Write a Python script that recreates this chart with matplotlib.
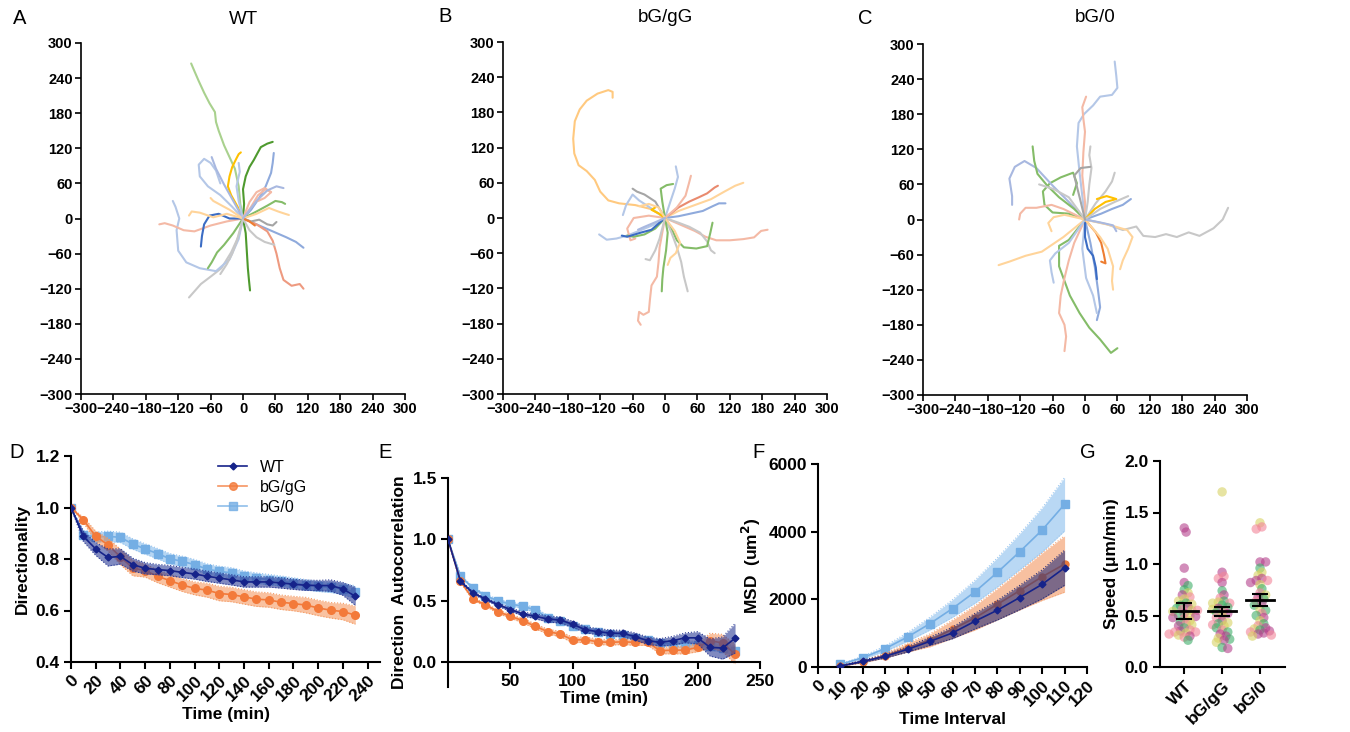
import numpy as np
import matplotlib
matplotlib.use("Agg")
import matplotlib.pyplot as plt
from matplotlib.lines import Line2D

plt.rcParams['font.family'] = ['Liberation Sans', 'DejaVu Sans']

# ---------------- track data (um) ----------------
wt_tracks = [
    [(0, 0), (-5, 25), (-8, 55), (-15, 85), (-25, 105), (-35, 125), (-45, 150), (-50, 165), (-52, 182), (-62, 197), (-72, 215), (-82, 235), (-90, 252), (-96, 265)],
    [(0, 0), (2, 25), (0, 50), (5, 72), (12, 88), (20, 100), (27, 112), (33, 122), (45, 128), (55, 131)],
    [(0, 0), (-10, 20), (-22, 40), (-28, 55), (-25, 72), (-20, 88), (-12, 103), (-8, 110), (-4, 113)],
    [(0, 0), (15, 15), (30, 35), (42, 55), (52, 78), (55, 95), (57, 112)],
    [(0, 0), (-20, 20), (-42, 40), (-65, 55), (-80, 72), (-82, 92), (-72, 102), (-60, 95), (-50, 82), (-42, 60)],
    [(0, 0), (-18, 30), (-35, 58), (-50, 85), (-58, 105)],
    [(0, 0), (15, 20), (28, 40), (42, 50), (52, 45), (40, 35), (28, 30)],
    [(0, 0), (25, 12), (45, 22), (60, 30), (72, 28), (78, 25)],
    [(0, 0), (25, 8), (48, 18), (65, 12), (78, 8), (85, 6)],
    [(0, 0), (25, -10), (55, -22), (80, -32), (98, -40), (112, -50)],
    [(0, 0), (25, -10), (45, -22), (55, -38), (62, -60), (68, -85), (75, -105), (90, -115), (105, -112), (112, -120)],
    [(0, 0), (5, -25), (7, -55), (9, -85), (11, -105), (13, -123)],
    [(0, 0), (-8, -30), (-22, -58), (-40, -85), (-58, -98), (-78, -112), (-100, -135)],
    [(0, 0), (-8, -35), (-25, -70), (-50, -90), (-80, -85), (-105, -75), (-120, -55), (-123, -20), (-118, 0), (-125, 20), (-130, 30)],
    [(0, 0), (-30, -5), (-60, -12), (-90, -22), (-110, -20), (-130, -12), (-145, -8), (-155, -10)],
    [(0, 0), (-25, 0), (-45, 8), (-62, 5), (-72, -10), (-76, -30), (-78, -48)],
    [(0, 0), (-18, -25), (-35, -45), (-48, -58), (-58, -75), (-65, -85)],
    [(0, 0), (-30, 8), (-55, 2), (-80, 10), (-95, 12), (-100, 5)],
    [(0, 0), (-25, 15), (-45, 25), (-55, 30), (-60, 35)],
    [(0, 0), (15, -5), (30, -2), (45, -10), (55, -12), (62, -6)],
    [(0, 0), (12, -20), (25, -32), (40, -40), (58, -45)],
    [(0, 0), (-8, 30), (-12, 55), (-6, 80), (-8, 95)],
    [(0, 0), (12, -5), (22, -12)],
    [(0, 0), (-12, -40), (-20, -60), (-30, -78), (-42, -95)],
    [(0, 0), (12, 28), (25, 45), (40, 52), (52, 45)],
    [(0, 0), (25, 30), (45, 48), (62, 55), (75, 52)],
]
wt_track_colors = ['lg', 'dg', 'go', 'mb', 'lb', 'lav', 'sa', 'mg', 'pe', 'mb', 'sa2', 'dg', 'gr', 'lb',
                   'sa', 'db', 'mg', 'pe', 'pe', 'dgr', 'gr', 'lb', 'or', 'gr', 'sa', 'lav']

gg_tracks = [
    [(0, 0), (-25, 15), (-55, 22), (-85, 25), (-105, 30), (-120, 45), (-130, 65), (-145, 80), (-160, 90), (-168, 110), (-170, 135), (-167, 165), (-158, 185), (-145, 200), (-125, 212), (-105, 218), (-97, 215), (-97, 205)],
    [(0, 0), (-5, -25), (-10, -50), (-12, -75), (-15, -100), (-25, -115), (-28, -140), (-30, -160), (-40, -165), (-48, -160), (-50, -175), (-45, -182)],
    [(0, 0), (30, -12), (55, -22), (75, -32), (95, -38), (120, -38), (145, -36), (165, -33), (178, -22), (190, -20)],
    [(0, 0), (25, 12), (55, 22), (85, 32), (110, 45), (130, 55), (145, 60)],
    [(0, 0), (25, 18), (45, 28), (62, 35), (78, 42), (92, 52), (98, 55)],
    [(0, 0), (25, 3), (50, 8), (70, 12), (88, 20), (100, 25), (112, 25)],
    [(0, 0), (25, -8), (45, -15), (65, -25), (78, -40), (85, -55), (92, -60)],
    [(0, 0), (12, -18), (22, -38), (35, -50), (58, -52), (78, -48), (84, -25), (88, -8)],
    [(0, 0), (12, -25), (22, -50), (30, -75), (35, -100), (42, -125)],
    [(0, 0), (5, -25), (2, -55), (-3, -85), (-5, -105), (-6, -125)],
    [(0, 0), (18, -22), (28, -42), (20, -60), (10, -68), (5, -80)],
    [(0, 0), (-22, -12), (-48, -22), (-70, -30), (-90, -35), (-108, -37), (-122, -28)],
    [(0, 0), (-30, 4), (-58, 0), (-70, -18), (-64, -38), (-55, -35)],
    [(0, 0), (-18, -18), (-38, -28), (-58, -32), (-70, -30)],
    [(0, 0), (-18, 28), (-38, 40), (-52, 45), (-60, 50)],
    [(0, 0), (10, 28), (18, 50), (24, 70), (20, 88)],
    [(0, 0), (-5, 28), (-8, 50), (3, 56), (15, 58)],
    [(0, 0), (22, 18), (38, 38), (44, 58), (48, 72)],
    [(0, 0), (-28, 18), (-48, 30), (-60, 40), (-72, 22), (-78, 5)],
    [(0, 0), (-12, 8), (-25, 14), (-18, 18)],
    [(0, 0), (-25, -20), (-45, -25), (-70, -32), (-80, -30)],
    [(0, 0), (-12, 18), (-30, 24), (-48, 20)],
    [(0, 0), (-10, -35), (-18, -55), (-28, -72), (-36, -70)],
    [(0, 0), (-20, -8), (-38, -15), (-50, -20)],
]
gg_track_colors = ['pe2', 'sa', 'sa', 'pe', 'ro', 'mb', 'gr', 'mg', 'gr', 'mg', 'pe', 'lb',
                   'sa', 'mg', 'dgr', 'lb', 'mg', 'sa', 'lb', 'go', 'db', 'pe', 'gr', 'lav']

b0_tracks = [
    [(0, 0), (-5, 40), (-10, 80), (-15, 125), (-12, 165), (-2, 180), (15, 195), (28, 210), (50, 213), (60, 225), (58, 245), (55, 270)],
    [(0, 0), (0, 30), (-5, 75), (-3, 115), (0, 150), (-3, 172), (-5, 192), (2, 210)],
    [(0, 0), (5, 30), (8, 60), (12, 88), (8, 110), (10, 125)],
    [(0, 0), (40, -8), (70, -18), (95, -12), (108, -28), (130, -30), (150, -25), (170, -30), (192, -22), (212, -28), (238, -15), (255, 0), (265, 20)],
    [(0, 0), (-30, -35), (-48, -45), (-48, -80), (-40, -100), (-28, -130), (-10, -160), (8, -185), (28, -205), (48, -228), (60, -220)],
    [(0, 0), (-20, -40), (-30, -70), (-38, -100), (-45, -130), (-48, -160), (-38, -180), (-35, -200), (-38, -225)],
    [(0, 0), (10, -40), (18, -80), (24, -120), (28, -150), (22, -172)],
    [(0, 0), (-5, -50), (2, -100), (15, -130), (22, -160)],
    [(0, 0), (0, -30), (5, -50), (15, -62), (20, -82), (22, -102)],
    [(0, 0), (20, -22), (30, -40), (35, -60), (38, -75), (30, -72)],
    [(0, 0), (28, -30), (42, -50), (52, -80), (50, -105), (52, -120)],
    [(0, 0), (48, -10), (78, -18), (88, -30), (80, -50), (70, -70), (65, -85)],
    [(0, 0), (-40, -30), (-80, -55), (-110, -62), (-140, -72), (-160, -78)],
    [(0, 0), (-30, -40), (-55, -58), (-65, -70), (-62, -90), (-58, -108)],
    [(0, 0), (-30, 10), (-60, 12), (-75, 25), (-78, 48), (-65, 62), (-45, 72), (-22, 80), (-15, 62), (-22, 42)],
    [(0, 0), (-30, 30), (-60, 58), (-90, 88), (-112, 100), (-130, 90), (-140, 70), (-135, 40), (-135, 25)],
    [(0, 0), (-20, 18), (-48, 38), (-70, 58), (-88, 78), (-94, 100), (-97, 125)],
    [(0, 0), (-40, 18), (-62, 25), (-90, 20), (-110, 20), (-120, 10), (-122, 0)],
    [(0, 0), (-38, 8), (-58, 4), (-68, -6), (-62, -20)],
    [(0, 0), (-30, 38), (-58, 52), (-85, 60)],
    [(0, 0), (20, 28), (38, 48), (50, 65), (55, 80)],
    [(0, 0), (18, 18), (38, 30), (58, 35), (40, 40), (22, 35)],
    [(0, 0), (30, 10), (50, 18), (70, 25), (85, 35)],
    [(0, 0), (28, 18), (55, 30), (80, 40)],
    [(0, 0), (28, -5), (52, -10), (58, -20)],
    [(0, 0), (-10, 38), (-20, 75), (-8, 88), (10, 90)],
]
b0_track_colors = ['lb', 'sa', 'gr', 'gr', 'mg', 'sa', 'mb', 'lb', 'db', 'or', 'pe', 'pe', 'pe',
                   'lb', 'mg', 'lav', 'mg', 'sa', 'pe', 'gr', 'gr', 'go', 'mb', 'gr', 'lav', 'dgr']

# ---------------- directionality / autocorrelation ----------------
time_min = list(range(0, 240, 10))
dir_wt = [1.0, 0.888, 0.839, 0.806, 0.81, 0.778, 0.764, 0.759, 0.755, 0.748, 0.742, 0.733,
          0.726, 0.719, 0.711, 0.711, 0.711, 0.707, 0.702, 0.698, 0.697, 0.697, 0.684, 0.655]
dir_wt_sem = [0, 0.02, 0.025, 0.033, 0.03, 0.025, 0.022, 0.02, 0.02, 0.02, 0.02, 0.02,
              0.02, 0.02, 0.02, 0.02, 0.02, 0.02, 0.02, 0.02, 0.02, 0.022, 0.025, 0.035]
dir_gg = [1.0, 0.952, 0.888, 0.855, 0.808, 0.765, 0.755, 0.733, 0.716, 0.699, 0.686, 0.679,
          0.666, 0.662, 0.653, 0.644, 0.641, 0.632, 0.627, 0.621, 0.610, 0.601, 0.596, 0.582]
dir_gg_sem = [0, 0.01, 0.02, 0.025, 0.03, 0.03, 0.025, 0.025, 0.025, 0.025, 0.025, 0.027,
              0.028, 0.028, 0.028, 0.028, 0.028, 0.028, 0.028, 0.03, 0.03, 0.03, 0.032, 0.035]
dir_b0 = [1.0, 0.895, 0.885, 0.888, 0.884, 0.858, 0.839, 0.821, 0.801, 0.791, 0.778, 0.761,
          0.752, 0.746, 0.733, 0.726, 0.72, 0.714, 0.707, 0.70, 0.694, 0.69, 0.684, 0.671]
dir_b0_sem = [0, 0.015, 0.02, 0.02, 0.02, 0.02, 0.02, 0.02, 0.02, 0.02, 0.02, 0.02,
              0.02, 0.02, 0.02, 0.02, 0.02, 0.02, 0.02, 0.02, 0.02, 0.02, 0.022, 0.025]

ac_wt = [1.0, 0.66, 0.565, 0.516, 0.47, 0.43, 0.394, 0.375, 0.353, 0.345, 0.31, 0.266,
         0.25, 0.239, 0.236, 0.21, 0.177, 0.163, 0.177, 0.2, 0.2, 0.122, 0.117, 0.196]
ac_wt_sem = [0, 0.01, 0.01, 0.01, 0.012, 0.015, 0.015, 0.02, 0.025, 0.025, 0.025, 0.025,
             0.025, 0.025, 0.025, 0.03, 0.03, 0.03, 0.035, 0.04, 0.05, 0.07, 0.09, 0.12]
ac_gg = [1.0, 0.66, 0.514, 0.47, 0.413, 0.375, 0.34, 0.293, 0.25, 0.231, 0.182, 0.185,
         0.168, 0.163, 0.168, 0.163, 0.163, 0.095, 0.10, 0.10, 0.122, 0.177, 0.158, 0.068]
ac_gg_sem = [0, 0.01, 0.01, 0.012, 0.015, 0.015, 0.018, 0.02, 0.02, 0.022, 0.022, 0.022,
             0.022, 0.022, 0.022, 0.025, 0.025, 0.025, 0.03, 0.03, 0.035, 0.06, 0.07, 0.08]
ac_b0 = [1.0, 0.70, 0.606, 0.543, 0.50, 0.475, 0.456, 0.427, 0.36, 0.335, 0.30, 0.27,
         0.25, 0.235, 0.22, 0.20, 0.18, 0.16, 0.15, 0.15, 0.14, 0.13, 0.12, 0.095]
ac_b0_sem = [0, 0.01, 0.01, 0.012, 0.015, 0.015, 0.018, 0.02, 0.02, 0.02, 0.02, 0.02,
             0.02, 0.02, 0.02, 0.02, 0.02, 0.025, 0.025, 0.025, 0.03, 0.03, 0.035, 0.04]

# ---------------- MSD ----------------
lag = [10, 20, 30, 40, 50, 60, 70, 80, 90, 100, 110]
msd_wt = [30, 168, 316, 523, 760, 1007, 1353, 1679, 2054, 2444, 2933]
msd_wt_sem = [10, 30, 50, 80, 120, 170, 230, 290, 360, 430, 520]
msd_gg = [30, 158, 336, 573, 790, 1116, 1451, 1852, 2257, 2667, 3042]
msd_gg_sem = [10, 35, 70, 130, 190, 270, 360, 460, 570, 700, 830]
msd_b0 = [80, 277, 543, 889, 1284, 1728, 2222, 2795, 3407, 4049, 4810]
msd_b0_sem = [15, 40, 80, 130, 190, 260, 340, 430, 530, 650, 790]

# ---------------- speed ----------------
groups = ['WT', 'bG/gG', 'bG/0']
speed_wt = [1.35, 1.31, 0.96, 0.82, 0.79, 0.75, 0.72, 0.70, 0.68, 0.66, 0.64, 0.62, 0.61, 0.60,
            0.58, 0.57, 0.56, 0.55, 0.55, 0.54, 0.52, 0.50, 0.50, 0.49, 0.48, 0.47, 0.45, 0.44,
            0.42, 0.41, 0.40, 0.38, 0.36, 0.35, 0.34, 0.34, 0.33, 0.32, 0.31, 0.30, 0.29, 0.26]
rep_wt = "mmmmggympyygygmgpypymygmmpygpymgpmppypympg"
speed_gg = [1.70, 0.92, 0.88, 0.86, 0.82, 0.74, 0.70, 0.67, 0.64, 0.63, 0.62, 0.62, 0.60,
            0.58, 0.57, 0.56, 0.55, 0.53, 0.52, 0.50, 0.48, 0.45, 0.43, 0.42, 0.41, 0.40,
            0.38, 0.36, 0.34, 0.32, 0.30, 0.28, 0.27, 0.26, 0.24, 0.19, 0.18]
rep_gg = "ymppmgmpgypyggmypgmypmygpygpgmmygmygm"
speed_b0 = [1.40, 1.36, 1.34, 1.02, 1.02, 0.96, 0.92, 0.89, 0.86, 0.84, 0.84, 0.82, 0.80,
            0.76, 0.72, 0.70, 0.68, 0.66, 0.64, 0.62, 0.60, 0.56, 0.55, 0.52, 0.50, 0.48,
            0.45, 0.42, 0.40, 0.38, 0.37, 0.36, 0.35, 0.34, 0.33, 0.32, 0.31, 0.30]
rep_b0 = "yppmmgyymmpmygpymgpmgygpgmygpmygmpmmpy"
speed_mean = [0.545, 0.54, 0.655]
speed_sem = [0.078, 0.042, 0.058]

# ---------------- styles ----------------
TRACK_C = {'lb': '#B4C7E7', 'lg': '#A9D18E', 'pe': '#FFD49A', 'pe2': '#FFC97F', 'sa': '#F4B9A5',
           'sa2': '#EE9A80', 'gr': '#C8C8C8', 'db': '#3B6CC4', 'dg': '#4E9A2E', 'mg': '#84BC68',
           'go': '#FFC000', 'mb': '#8FAADC', 'or': '#ED7D31', 'dgr': '#A5A5A5', 'ro': '#E98A6E',
           'lav': '#A8B8E0'}
REP_C = {'g': '#3FAE6A', 'm': '#B5428C', 'y': '#D8D264', 'p': '#F28598'}
NAVY, ORANGE, LBLUE = '#16238A', '#F37A3A', '#74AEE4'

W, H = 1350, 732
fig = plt.figure(figsize=(W / 100, H / 100), dpi=100)


def px_axes(l, t, r, b):
    return fig.add_axes([l / W, 1 - b / H, (r - l) / W, (b - t) / H])


def clean(ax, lw=1.5):
    for s in ['top', 'right']:
        ax.spines[s].set_visible(False)
    for s in ['left', 'bottom']:
        ax.spines[s].set_linewidth(lw)
    ax.tick_params(direction='out', length=5, width=lw)


def track_panel(ax, tracks, colors):
    for pts, c in zip(tracks, colors):
        xy = np.array(pts, dtype=float)
        ax.plot(xy[:, 0], xy[:, 1], color=TRACK_C[c], lw=1.5, solid_capstyle='round',
                solid_joinstyle='round')
    ax.set_xlim(-300, 300)
    ax.set_ylim(-300, 300)
    ax.set_xticks(range(-300, 301, 60))
    ax.set_yticks(range(-300, 301, 60))
    clean(ax, 1.2)
    ax.tick_params(length=4, labelsize=10.5, pad=2)
    for t in ax.get_xticklabels() + ax.get_yticklabels():
        t.set_fontweight('bold')


def band(ax, x, y, e, line_c, fill_c, alpha, marker, ms, z, label=None):
    x = np.array(x, dtype=float)
    y = np.array(y, dtype=float)
    e = np.array(e, dtype=float)
    ax.fill_between(x, y - e, y + e, color=fill_c, alpha=alpha, lw=0, zorder=z)
    ax.plot(x, y - e, color=fill_c, lw=0.8, ls=':', zorder=z)
    ax.plot(x, y + e, color=fill_c, lw=0.8, ls=':', zorder=z)
    ax.plot(x, y, color=line_c, marker=marker, ms=ms, lw=1.2, zorder=z + 0.5, label=label)


def bold_ticks(ax, size=12.5):
    ax.tick_params(labelsize=size, pad=3)
    for t in ax.get_xticklabels() + ax.get_yticklabels():
        t.set_fontweight('bold')


# ---- A, B, C ----
axA = px_axes(81, 43, 405, 394)
axB = px_axes(503, 42, 827, 394)
axC = px_axes(923, 44, 1247, 395)
track_panel(axA, wt_tracks, wt_track_colors)
track_panel(axB, gg_tracks, gg_track_colors)
track_panel(axC, b0_tracks, b0_track_colors)

for (x, y), s in zip([(243, 20), (665, 18), (1095, 18)], groups):
    fig.text(x / W, 1 - y / H, s, fontsize=13.5, ha='center', va='center')
for (x, y), s in zip([(20, 18), (445, 16), (865, 18), (17, 452), (385, 452), (758, 453), (1088, 453)],
                     'ABCDEFG'):
    fig.text(x / W, 1 - y / H, s, fontsize=14.5, ha='center', va='center')

# ---- D ----
axD = px_axes(71, 456, 380, 662)
band(axD, time_min, dir_b0, dir_b0_sem, LBLUE, '#8FC0EE', 0.65, 's', 5.5, 1)
band(axD, time_min, dir_gg, dir_gg_sem, ORANGE, '#F59A62', 0.6, 'o', 5.5, 2)
band(axD, time_min, dir_wt, dir_wt_sem, NAVY, '#2C3C96', 0.6, 'D', 3.5, 3)
axD.set_xlim(0, 250)
axD.set_ylim(0.4, 1.2)
axD.set_xticks(range(0, 241, 20))
axD.set_yticks([0.4, 0.6, 0.8, 1.0, 1.2])
axD.set_ylabel('Directionality', fontsize=12.5, fontweight='bold', labelpad=4)
axD.set_xlabel('Time (min)', fontsize=12.5, fontweight='bold', labelpad=2)
clean(axD)
bold_ticks(axD)
plt.setp(axD.get_xticklabels(), rotation=45, ha='right', rotation_mode='anchor')
handles = [Line2D([], [], color=NAVY, marker='D', ms=3.5, lw=1.2),
           Line2D([], [], color=ORANGE, marker='o', ms=5.5, lw=1.2, alpha=0.8),
           Line2D([], [], color=LBLUE, marker='s', ms=5.5, lw=1.2, alpha=0.8)]
axD.legend(handles, groups, loc='upper left', bbox_to_anchor=(0.43, 1.05), frameon=False,
           fontsize=11.5, handlelength=1.8, labelspacing=0.3, handletextpad=0.8)

# ---- E ----
axE = px_axes(448, 478, 760, 687)
band(axE, time_min, ac_b0, ac_b0_sem, LBLUE, '#8FC0EE', 0.65, 's', 5.5, 1)
band(axE, time_min, ac_gg, ac_gg_sem, ORANGE, '#F59A62', 0.6, 'o', 5.5, 2)
band(axE, time_min, ac_wt, ac_wt_sem, NAVY, '#2C3C96', 0.6, 'D', 3.5, 3)
axE.set_xlim(0, 250)
axE.set_ylim(-0.2, 1.5)
axE.set_xticks([50, 100, 150, 200, 250])
axE.set_yticks([0.0, 0.5, 1.0, 1.5])
clean(axE)
axE.spines['bottom'].set_position(('data', 0))
axE.spines['left'].set_bounds(-0.2, 1.5)
axE.set_ylabel('Direction  Autocorrelation', fontsize=12.5, fontweight='bold', labelpad=4)
axE.set_xlabel('Time (min)', fontsize=12.5, fontweight='bold', labelpad=2)
bold_ticks(axE)

# ---- F ----
axF = px_axes(818, 464, 1087, 667)
band(axF, lag, msd_b0, msd_b0_sem, LBLUE, '#9CC8F0', 0.7, 's', 5.5, 1)
band(axF, lag, msd_gg, msd_gg_sem, '#E87A3C', '#F5A678', 0.7, 'o', 5, 2)
band(axF, lag, msd_wt, msd_wt_sem, NAVY, '#2A2F78', 0.6, 'D', 3.5, 3)
axF.set_xlim(0, 120)
axF.set_ylim(0, 6000)
axF.set_xticks(range(0, 121, 10))
axF.set_yticks([0, 2000, 4000, 6000])
axF.set_ylabel('MSD  (um$^\\mathbf{2}$)', fontsize=12.5, fontweight='bold', labelpad=4)
axF.set_xlabel('Time Interval', fontsize=12.5, fontweight='bold', labelpad=2)
clean(axF)
bold_ticks(axF)
plt.setp(axF.get_xticklabels(), rotation=45, ha='right', rotation_mode='anchor')

# ---- G ----
axG = px_axes(1160, 461, 1285, 667)


def swarm(vals, xs=39.0, ys=103.0, d=4.5, step=0.05):
    placed, offs = [], []
    for v in vals:
        k = 0
        while True:
            cands = [0.0] if k == 0 else [k * step, -k * step]
            pick = None
            for c in cands:
                if all(((c - px) * xs) ** 2 + ((v - py) * ys) ** 2 >= d * d for px, py in placed):
                    pick = c
                    break
            if pick is not None:
                break
            k += 1
        placed.append((pick, v))
        offs.append(pick)
    return offs


for i, (vals, reps) in enumerate([(speed_wt, rep_wt), (speed_gg, rep_gg), (speed_b0, rep_b0)]):
    offs = swarm(vals)
    axG.scatter([i + o for o in offs], vals, s=46, c=[REP_C[r] for r in reps],
                alpha=0.6, lw=0, zorder=2)
    axG.errorbar(i, speed_mean[i], yerr=speed_sem[i], color='black', capsize=6,
                 elinewidth=1.5, capthick=1.5, zorder=3)
    axG.plot([i - 0.36, i + 0.36], [speed_mean[i]] * 2, color='black', lw=2, zorder=3)
axG.set_xlim(-0.64, 2.66)
axG.set_ylim(0, 2.0)
axG.set_yticks([0.0, 0.5, 1.0, 1.5, 2.0])
axG.set_xticks(range(3))
axG.set_xticklabels(groups)
axG.set_ylabel('Speed (μm/min)', fontsize=12.5, fontweight='bold', labelpad=4)
clean(axG)
bold_ticks(axG)
plt.setp(axG.get_xticklabels(), rotation=45, ha='right', rotation_mode='anchor')

fig.savefig('out.png', dpi=100)
